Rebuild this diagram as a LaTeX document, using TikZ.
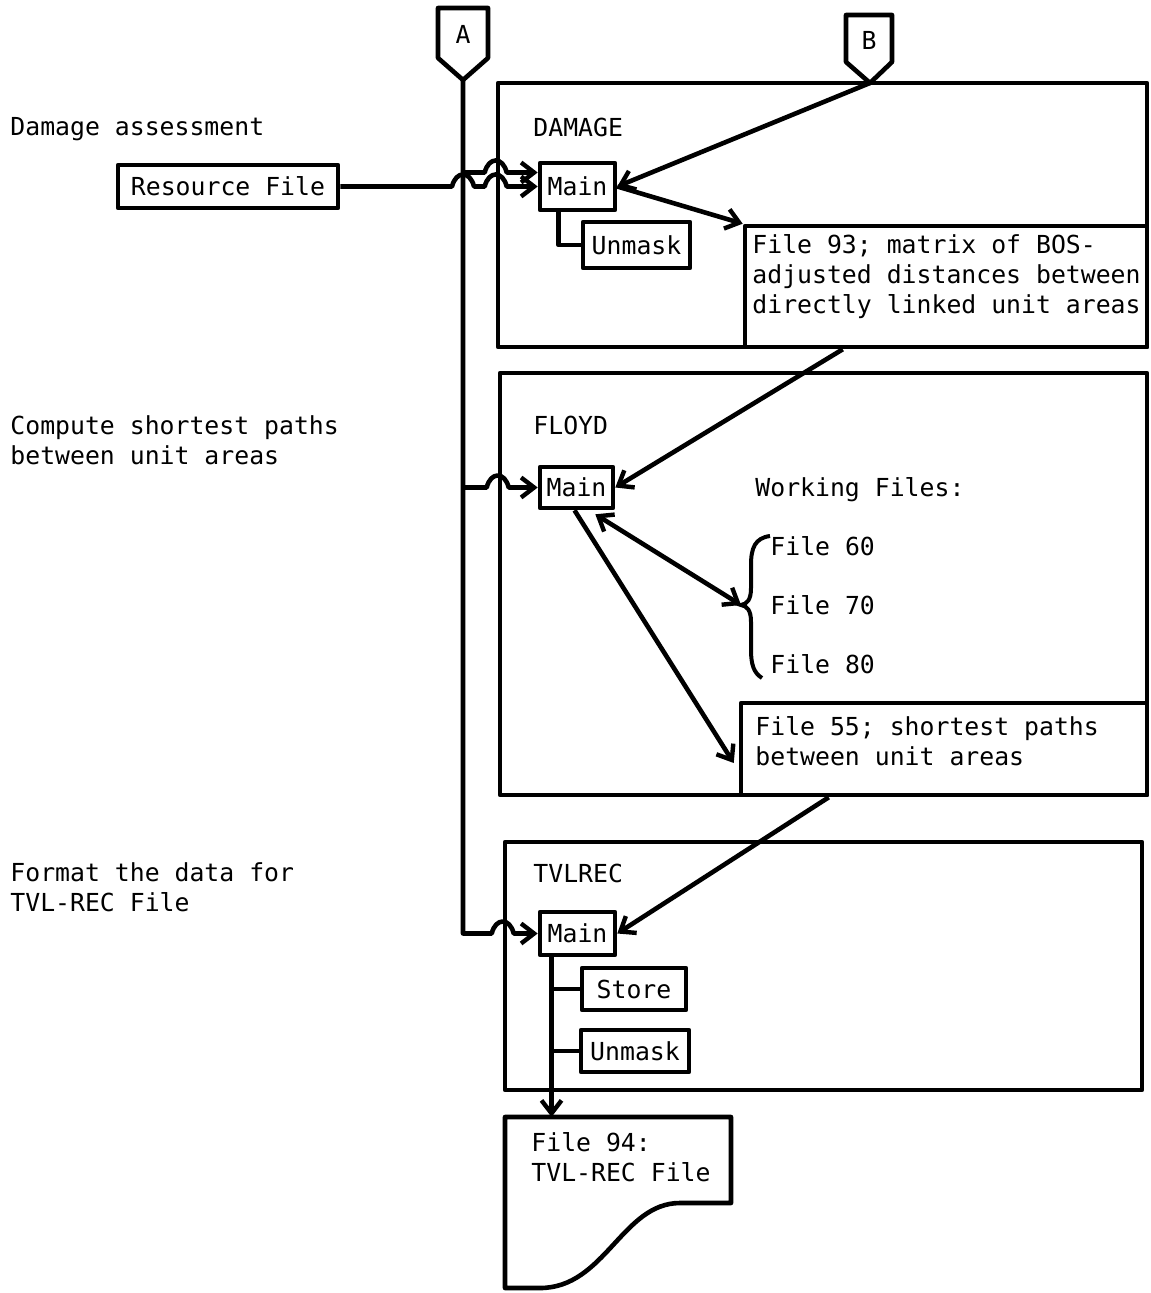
\documentclass[tikz,border=0pt]{standalone}
\usepackage{fontspec}
\setmonofont{DejaVu Sans Mono}
\usetikzlibrary{arrows.meta,calc,fit}
\begin{document}
\begin{tikzpicture}[x=0.5pt,y=-0.5pt,
  every node/.style={font=\ttfamily\fontsize{12.4}{15}\selectfont, inner sep=0pt},
  ln/.style={line width=2.3pt, line join=round},
  tip/.tip={Straight Barb[length=6.5pt,width=10pt,line width=2.2pt]},
  arr/.style={ln, -tip},
  dblarr/.style={ln, tip-tip},
  bigbox/.style={draw, ln, inner sep=0pt},
  sbox/.style={draw, ln, inner sep=0pt},
  txt/.style={align=left, anchor=north west},
  lbl/.style={anchor=base west}
]
\useasboundingbox (0,0) rectangle (1150,1293);

% off-page connectors
\node (A) at (463,34) {A};
\draw[ln] (438,8) -- (488,8) -- (488,58) -- (463,80) -- (438,58) -- cycle;
\coordinate (Atip) at (463,80);
\node (B) at (869,40) {B};
\draw[ln] (846,15) -- (892,15) -- (892,62) -- (870,83) -- (846,62) -- cycle;
\coordinate (Btip) at (870,83);

% left descriptions
\node[lbl] (d1) at (10,136) {Damage assessment};
\node[txt] (d2) at (10,415) {Compute shortest paths\\between unit areas};
\node[txt] (d3) at (10,862) {Format the data for\\TVL-REC File};

% DAMAGE
\node[bigbox, fit={(498,83) (1147,347)}] (damage) {};
\node[lbl] (damagel) at (533,137) {DAMAGE};
\node[sbox, minimum width=110pt, minimum height=21.5pt] (rf) at (228,186.5) {Resource File};
\node[sbox, minimum width=37.5pt, minimum height=23.5pt] (m1) at (577.5,186.5) {Main};
\node[sbox, minimum width=53.5pt, minimum height=23pt] (un1) at (636.5,245) {Unmask};
\node[bigbox, fit={(745,226) (1147,347)}] (f93) {};
\node[txt] (f93t) at (752,234) {File 93; matrix of BOS-\\adjusted distances between\\directly linked unit areas};

% FLOYD
\node[bigbox, fit={(500,373) (1147,795)}] (floyd) {};
\node[lbl] (floydl) at (533,435) {FLOYD};
\node[sbox, minimum width=36.5pt, minimum height=20.5pt] (fmain) at (576.5,487.5) {Main};
\node[lbl] (wf) at (755,496) {Working Files:};
\node[lbl] (f60) at (770,555) {File 60};
\node[lbl] (f70) at (770,614) {File 70};
\node[lbl] (f80) at (770,673) {File 80};
\coordinate (brtip) at (741,605);
\draw[line width=2pt] (770,536) .. controls (755,538) and (751,548) .. (751,565) -- (751,588)
  .. controls (751,600) and (747,604) .. (brtip)
  .. controls (747,606) and (751,610) .. (751,622) -- (751,650)
  .. controls (751,665) and (754,673) .. (762,678);
\node[bigbox, fit={(741,703) (1147,795)}] (f55) {};
\node[txt] (f55t) at (755,716) {File 55; shortest paths\\between unit areas};

% TVLREC
\node[bigbox, fit={(505,842) (1142,1090)}] (tvlrec) {};
\node[lbl] (tvlrecl) at (533,882) {TVLREC};
\node[sbox, minimum width=37.5pt, minimum height=21.5pt] (tmain) at (577.5,933.5) {Main};
\node[sbox, minimum width=52pt, minimum height=21pt] (store) at (634,989) {Store};
\node[sbox, minimum width=54pt, minimum height=21pt] (un2) at (635,1051) {Unmask};

% File 94 document
\draw[ln] (505,1117) -- (731,1117) -- (731,1203) -- (680,1203)
  .. controls (622,1203) and (605,1288) .. (540,1288) -- (505,1288) -- cycle;
\coordinate (f94n) at (549,1117);
\node[txt] (f94t) at (531,1132) {File 94:\\TVL-REC File};

% connectors
\coordinate (m1a) at ($(m1.west)+(0,-14)$);
\draw[arr] (Atip |- m1a) -- ($(damage.west |- m1a)+(-11,0)$)
  .. controls +(4,-16) and +(-4,-16) .. ++(22,0) -- (m1a);
\draw[arr] (rf.east) -- ($(Atip |- rf.east)+(-11,0)$)
  .. controls +(4,-16) and +(-4,-16) .. ++(22,0)
  -- ($(damage.west |- rf.east)+(-11,0)$)
  .. controls +(4,-16) and +(-4,-16) .. ++(22,0) -- (m1.west);
\draw[arr] (Btip) -- (m1.east);
\draw[ln] ($(m1.south)+(-19,0)$) |- (un1.west);
\draw[arr] (m1.east) -- (f93.north west);
\draw[arr] ($(f93.south west)+(100,0)$) -- (fmain.east);

\draw[arr] (Atip |- fmain.west) -- ($(floyd.west |- fmain.west)+(-11,0)$)
  .. controls +(4,-16) and +(-4,-16) .. ++(22,0) -- (fmain.west);
\draw[dblarr] ($(fmain.south east)+(-20,4)$) -- (brtip);
\draw[arr] ($(fmain.south)+(-2,0)$) -- ($(f55.west)+(-5,14)$);
\draw[arr] ($(f55.south west)+(90,0)$) -- (tmain.east);

\draw[arr] (Atip) -- (Atip |- tmain.west) -- ($(tvlrec.west |- tmain.west)+(-11,0)$)
  .. controls +(4,-16) and +(-4,-16) .. ++(22,0) -- (tmain.west);
\coordinate (tr) at ($(tmain.south)+(-26,0)$);
\draw[arr] (tr) -- (tr |- f94n);
\draw[ln] (tr |- store.west) -- (store.west);
\draw[ln] (tr |- un2.west) -- (un2.west);
\end{tikzpicture}
\end{document}
